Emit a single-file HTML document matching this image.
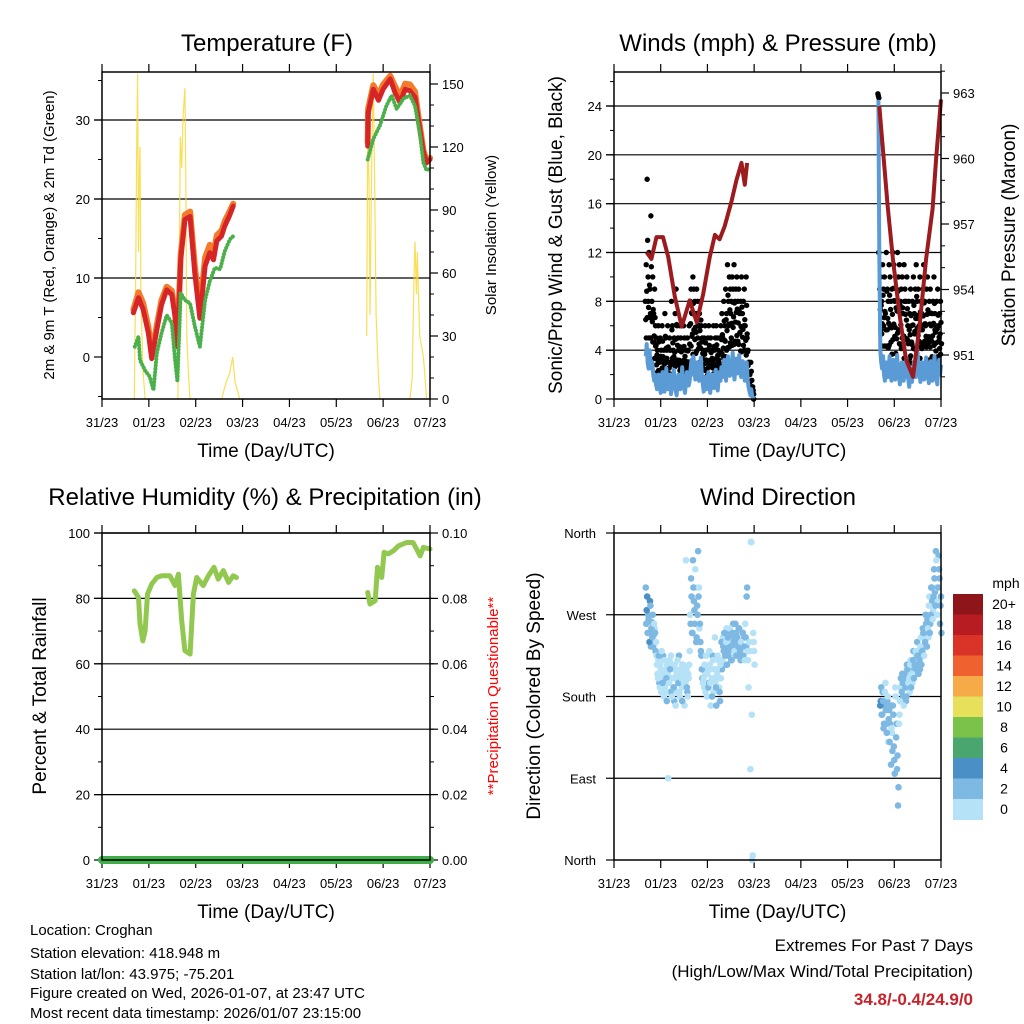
<!DOCTYPE html>
<html><head><meta charset="utf-8"><style>
html,body{margin:0;padding:0;background:#fff;}
svg{display:block;font-family:"Liberation Sans",Arial,sans-serif;}
</style></head><body>
<svg id="chart" width="1024" height="1024" viewBox="0 0 1024 1024" xmlns="http://www.w3.org/2000/svg">
<rect width="1024" height="1024" fill="#fff"/>
<text x="267" y="51" font-size="24" text-anchor="middle">Temperature (F)</text>
<text x="778" y="51" font-size="24" text-anchor="middle">Winds (mph) &amp; Pressure (mb)</text>
<text x="265" y="505" font-size="24" text-anchor="middle">Relative Humidity (%) &amp; Precipitation (in)</text>
<text x="778" y="505" font-size="24" text-anchor="middle">Wind Direction</text>
<text transform="translate(54,235) rotate(-90)" font-size="15" text-anchor="middle">2m &amp; 9m T (Red, Orange) &amp; 2m Td (Green)</text>
<text transform="translate(496,235) rotate(-90)" font-size="15" text-anchor="middle">Solar Insolation (Yellow)</text>
<text transform="translate(562,235) rotate(-90)" font-size="19" text-anchor="middle">Sonic/Prop Wind &amp; Gust (Blue, Black)</text>
<text transform="translate(1015,235) rotate(-90)" font-size="19" text-anchor="middle">Station Pressure (Maroon)</text>
<text transform="translate(46,696) rotate(-90)" font-size="19" text-anchor="middle">Percent &amp; Total Rainfall</text>
<text transform="translate(498,696) rotate(-90)" font-size="15" fill="#f00" text-anchor="middle">**Precipitation Questionable**</text>
<text transform="translate(540,696) rotate(-90)" font-size="19" text-anchor="middle">Direction (Colored By Speed)</text>
<g font-size="15">
<text x="30" y="935">Location: Croghan</text>
<text x="30" y="958">Station elevation: 418.948 m</text>
<text x="30" y="979">Station lat/lon: 43.975; -75.201</text>
<text x="30" y="998">Figure created on Wed, 2026-01-07, at 23:47 UTC</text>
<text x="30" y="1018">Most recent data timestamp: 2026/01/07 23:15:00</text>
</g>
<g text-anchor="end">
<text x="973" y="951" font-size="17">Extremes For Past 7 Days</text>
<text x="973" y="977" font-size="17">(High/Low/Max Wind/Total Precipitation)</text>
<text x="973" y="1005" font-size="17" font-weight="bold" fill="#c8222a">34.8/-0.4/24.9/0</text>
</g>
</svg>
<script>
// ---- data ----
const dayLabels=['31/23','01/23','02/23','03/23','04/23','05/23','06/23','07/23'];
const temp2m=[[0.67,5.6],[0.78,7.5],[0.88,6],[0.99,3],[1.06,-0.2],[1.17,3.4],[1.27,6.6],[1.38,8.5],[1.49,7.9],[1.56,5.1],[1.61,1.3],[1.68,12.3],[1.77,17.4],[1.88,17.8],[1.98,10.6],[2.09,4.9],[2.2,11.5],[2.3,13.2],[2.38,12.3],[2.45,14.7],[2.55,15.3],[2.62,16.6],[2.73,18],[2.8,19.1],null,[5.67,26.7],[5.68,30.8],[5.79,33.9],[5.9,32.5],[6.0,33.9],[6.15,35.2],[6.25,33.5],[6.36,32.2],[6.47,33.9],[6.57,33.7],[6.68,32.9],[6.75,30.1],[6.86,25.9],[6.93,24.6],[7.0,25.0]];
const temp9m=[[0.67,6],[0.78,8.2],[0.88,6.8],[0.99,3.8],[1.06,0.4],[1.17,4],[1.27,7.2],[1.38,8.9],[1.49,8.4],[1.56,5.6],[1.61,1.8],[1.68,13],[1.77,18],[1.88,18.4],[1.98,11.6],[2.09,5.8],[2.2,12.6],[2.3,14.2],[2.38,13],[2.45,15.4],[2.55,16],[2.62,17.2],[2.73,18.5],[2.8,19.4],null,[5.67,27.2],[5.68,31.4],[5.79,34.4],[5.9,33.2],[6.0,34.5],[6.15,35.6],[6.25,34.3],[6.36,33],[6.47,34.6],[6.57,34.5],[6.68,33.6],[6.75,30.6],[6.86,26.2],[6.93,24.8],[7.0,25.2]];
const dewpoint=[[0.7,1.3],[0.78,2.6],[0.81,-0.4],[0.92,-1.7],[1.02,-2.5],[1.1,-4.2],[1.17,0.5],[1.27,3],[1.38,5.3],[1.49,4.3],[1.56,-0.4],[1.61,-3.1],[1.68,8.1],[1.77,7.2],[1.88,6.8],[1.98,3.9],[2.09,1.3],[2.2,7.2],[2.3,9.6],[2.41,11.3],[2.52,11.1],[2.62,13.4],[2.73,14.9],[2.84,15.5],null,[5.67,25],[5.79,27.6],[5.93,29.3],[6.07,31.8],[6.18,33.1],[6.29,31.4],[6.43,32.7],[6.57,33.1],[6.68,31.8],[6.79,28],[6.86,24.6],[6.93,23.6],[7.0,24]];
const insolation=[[0.69,0],[0.72,60],[0.74,120],[0.76,155],[0.78,70],[0.79,95],[0.81,120],[0.83,50],[0.87,15],[0.92,0],null,[1.62,0],[1.65,60],[1.67,125],[1.7,110],[1.73,135],[1.77,148],[1.79,100],[1.81,30],[1.85,10],[1.88,0],null,[2.55,0],[2.65,8],[2.72,12],[2.79,20],[2.84,8],[2.94,0],null,[5.65,30],[5.67,130],[5.7,100],[5.72,40],[5.76,120],[5.79,155],[5.82,100],[5.85,40],[5.9,10],[5.93,0],null,[6.57,0],[6.62,10],[6.66,60],[6.68,75],[6.71,50],[6.73,70],[6.78,30],[6.86,20],[6.93,0]];
const pressure=[[0.7,955.7],[0.8,955.4],[0.91,956.4],[1.05,956.4],[1.16,955.5],[1.3,953.7],[1.45,952.3],[1.62,953.5],[1.77,952.5],[1.91,953.8],[2.05,955.5],[2.16,956.5],[2.26,956.3],[2.37,956.9],[2.51,958],[2.62,959],[2.73,959.8],[2.8,958.8],[2.85,959.8],null,[5.68,962.4],[5.75,960.6],[5.86,957.8],[5.97,955.4],[6.11,952.9],[6.25,950.8],[6.4,950],[6.54,952.3],[6.68,955.4],[6.82,957.7],[6.9,960.1],[7.0,962.7]];
const seg1Start=0.68, seg2Start=5.66, sampleStep=0.02;
const sonic1=[3.5,4.5,3,2.5,4,3,2.5,3,2,1.5,2,1.2,0.8,1.5,2,1,0.5,1.8,2.2,1,0.6,1.4,2.5,1.2,0.8,1.6,2,0.4,1,1.8,2.4,1.5,0.7,0.3,1.2,2,1.5,0.8,1.6,2.6,1.4,0.9,0.5,1.3,2.2,1.8,1.1,1.5,2.5,3.2,2,3.5,2.8,1.6,2.4,3,2.2,1.5,2.8,3.4,2,1.2,0.6,1,1.8,0.8,1.5,2.2,1.2,0.5,1.4,2,1.6,0.9,1.8,2.4,1.3,0.7,1.6,2.2,1.5,2.6,1.8,2.5,3.2,2.2,1.5,2.8,3.5,2.4,1.9,3,2.6,3.8,2.2,1.6,2.9,3.3,2.1,2.7,3.6,2.4,1.8,2.6,3.1,2,1.5,2.4,3,1.6,1,0.6,0.3,0.8,0.2,0.1,0];
const sonic2=[24.5,12,4,3,2.5,3.5,2,1.5,3,2.5,1.8,2.6,3.5,2,1.5,2.8,3.2,2.2,1.6,2.4,3.6,2.5,1.8,1.2,2.2,3,2.4,1.5,2,2.8,3.4,2.2,1.6,1,1.8,2.5,1.4,2.2,3,2.6,1.8,3.2,3.8,2.6,2,1.4,2.2,3,2.4,1.6,2.5,3.4,2.8,1.9,1.3,2.4,3.1,2.2,1.5,2.6,3.5,2.4,1.8,1.2,2.6,3.2,2,2.8];
const gust1=[8,11,18,10,12,9,15,8,10,7,9,6,5,4,6,3,5,4,6,3,4,7,5,4,6,3,5,4,8,6,4,5,7,9,6,5,4,6,5,3,4,6,5,4,3,5,4,6,8,9,7,10,9,8,7,9,8,6,7,8,6,5,4,5,6,4,3,5,6,4,5,4,3,6,4,5,6,5,4,3,5,6,7,5,8,6,9,7,11,8,10,9,8,10,9,11,8,9,10,8,9,7,8,10,7,8,9,6,10,5,4,3,2,3,1,1,0];
const gust2=[25,12,9,10,8,11,9,10,7,12,9,8,11,10,8,9,12,11,8,10,9,12,10,11,8,9,10,7,11,9,8,10,6,8,7,9,6,8,10,7,9,11,8,9,6,10,8,7,9,11,8,6,9,10,7,8,9,6,7,8,10,7,6,8,9,6,7,8];
const dir1=[300,275,250,265,240,280,255,245,235,260,250,240,215,200,225,190,210,230,195,205,220,185,200,215,90,195,210,225,180,200,190,215,170,205,220,195,185,210,200,175,215,195,205,330,190,180,200,230,260,290,250,300,275,320,240,280,340,300,260,230,210,195,200,215,185,225,205,190,230,195,210,180,220,200,245,190,210,225,200,185,215,240,220,235,250,225,240,215,245,230,255,235,220,250,240,230,260,225,245,235,255,230,240,225,250,235,220,245,290,230,190,240,100,350,0,250,230];
const dir1b=[260,290,270,250,285,235,262,270,248,255,230,225,205,220,195,215,185,200,225,180,190,210,175,205,195,220,185,200,215,190,175,210,200,185,195,225,180,205,190,215,200,170,195,210,185,205,215,270,310,250,330,285,260,300,245,270,290,255,240,225,200,210,190,205,225,180,210,195,215,170,200,225,185,210,195,170,205,220,190,175,200,210,245,230,215,240,255,235,225,250,240,220,235,260,245,225,250,240,230,255,240,220,235,250,225,245,260,235,300,220,240,230,350,160,5,240,215];
const dir2=[200,180,170,190,160,175,150,185,165,140,180,155,130,170,145,120,160,110,190,135,100,60,150,175,200,185,195,170,205,190,180,210,195,200,215,190,205,220,200,215,230,210,225,205,220,235,215,230,250,225,240,260,235,255,280,250,270,300,265,290,310,280,330,270,300,320,260,290];
const dir2b=[210,190,175,160,185,145,170,195,150,175,130,165,150,105,140,170,125,95,180,150,115,80,160,190,175,205,180,190,200,175,215,195,210,185,220,205,195,230,210,205,225,240,215,230,210,245,225,255,235,245,270,250,265,245,290,260,300,285,275,320,295,340,300,285,335,310,280,250];
const rh=[[0.69,82.3],[0.78,80.3],[0.81,72.2],[0.87,67],[0.92,70],[0.97,81.3],[1.06,84.4],[1.17,86.4],[1.27,86.9],[1.45,86.9],[1.56,83.9],[1.63,87.4],[1.7,73.2],[1.77,64],[1.88,63],[1.95,81.3],[2.02,86.4],[2.16,83.9],[2.27,86.9],[2.39,89.5],[2.48,85.9],[2.59,88.5],[2.7,84.9],[2.8,86.9],[2.87,86.4],null,[5.67,81.8],[5.72,78.3],[5.83,79.3],[5.88,89.5],[5.97,86.4],[6.02,94.1],[6.11,93.6],[6.22,94.6],[6.33,96.1],[6.5,97.1],[6.64,97.1],[6.79,93],[6.86,95.6],[7.0,95.1]];
const precip=[[0,0],[7,0]];
const speedLabels=['20+','18','16','14','12','10','8','6','4','2','0'];
const speedColors=['#8e1519','#b81c23','#da3328','#ef6230','#f6aa48','#e6e05a','#7bc24b','#4aa66f','#4a8fc6','#7db9e3','#b5e2f7'];

// ---- helpers ----
const NS='http://www.w3.org/2000/svg';
const svg=document.getElementById('chart');
function el(tag,attrs,parent){const e=document.createElementNS(NS,tag);for(const k in attrs)e.setAttribute(k,attrs[k]);(parent||svg).appendChild(e);return e;}
function group(name){const g=el('g',{});return g;}
function mkPanel(x0,x1,y0,y1){return {x0,x1,y0,y1,tx:d=>x0+d/7*(x1-x0)};}
function lin(v0,v1,p0,p1){return v=>p0+(v-v0)/(v1-v0)*(p1-p0);}
function pathOf(pts,fx,fy){let d='',pen=false;for(const p of pts){if(!p){pen=false;continue;}d+=(pen?'L':'M')+fx(p[0]).toFixed(1)+' '+fy(p[1]).toFixed(1);pen=true;}return d;}
function frame(P,name){
  const g=group(name+'-axes');
  for(let i=0;i<8;i++){const x=P.tx(i);
    el('line',{x1:x,x2:x,y1:P.y0-8,y2:P.y0,stroke:'#000','stroke-width':1.2},g);
    el('line',{x1:x,x2:x,y1:P.y1,y2:P.y1+8,stroke:'#000','stroke-width':1.2},g);
    const t=el('text',{x:x,y:P.y1+28,'font-size':13,'text-anchor':'middle'},g);t.textContent=dayLabels[i];
    
    
  }
  const tt=el('text',{x:(P.x0+P.x1)/2,y:P.y1+58,'font-size':19,'text-anchor':'middle'},g);tt.textContent='Time (Day/UTC)';
  
  
  return g;
}
function border(P){const r=el('rect',{x:P.x0,y:P.y0,width:P.x1-P.x0,height:P.y1-P.y0,fill:'none',stroke:'#000','stroke-width':1.5});
  
  }
function yAxis(P,side,sc,majors,minors,fmt,grid,name){
  const g=group(name);
  const x=side==='l'?P.x0:P.x1,dir=side==='l'?-1:1;
  for(const v of minors){const y=sc(v);el('line',{x1:x,x2:x+dir*4,y1:y,y2:y,stroke:'#000','stroke-width':1},g);}
  for(const v of majors){const y=sc(v);
    el('line',{x1:x,x2:x+dir*8,y1:y,y2:y,stroke:'#000','stroke-width':1.2},g);
    if(grid&&v!==majors[0]||grid==='all'){el('line',{x1:P.x0-8,x2:P.x1,y1:y,y2:y,stroke:'#000','stroke-width':1.2},g);}
    const t=el('text',{x:x+dir*12,y:y+5,'font-size':13,'text-anchor':side==='l'?'end':'start'},g);t.textContent=fmt(v);
  }
}
function range(a,b,s){const r=[];for(let v=a;v<=b+1e-9;v+=s)r.push(+v.toFixed(4));return r;}

// ---- Temperature panel ----
const PT=mkPanel(102,430,72,399);
const tY=lin(0,30,357,120), iY=lin(0,150,399,84);
frame(PT,'temp');
yAxis(PT,'l',tY,[0,10,20,30],[-5,5,15,25,35],v=>v,true,'temp-left-axis');
yAxis(PT,'r',iY,range(0,150,30),range(0,150,10),v=>v,false,'insolation-right-axis');
const gTemp=group('temperature-series');
const insPath=el('path',{d:pathOf(insolation,PT.tx,iY),fill:'none',stroke:'#f8d83a','stroke-width':1.2,opacity:0.85},gTemp);


const t9=el('path',{d:pathOf(temp9m,PT.tx,tY),fill:'none',stroke:'#f47b2b','stroke-width':6,'stroke-linejoin':'round','stroke-linecap':'round'},gTemp);


const t2=el('path',{d:pathOf(temp2m,PT.tx,tY),fill:'none',stroke:'#d62527','stroke-width':5,'stroke-linejoin':'round','stroke-linecap':'round'},gTemp);


const td=el('path',{d:pathOf(dewpoint,PT.tx,tY),fill:'none',stroke:'#4bb04a','stroke-width':4,'stroke-dasharray':'0.1 3.2','stroke-linecap':'round'},gTemp);


border(PT);

// ---- Winds panel ----
const PW=mkPanel(614,941,72,399);
const wY=lin(0,24,399,106), pY=lin(951,963,355,93);
frame(PW,'wind');
yAxis(PW,'l',wY,range(0,24,4),range(0,26,2),v=>v,true,'wind-left-axis');
yAxis(PW,'r',pY,range(951,963,3),range(950,964,1),v=>v,false,'pressure-right-axis');
const gWind=group('wind-series');
function drawWind(sonic,gust,start){
  const pts=sonic.map((v,i)=>[start+i*sampleStep,v]);
  for(let i=0;i<gust.length;i++){const x=PW.tx(start+i*sampleStep);
    const lvls=[gust[i],(gust[i]*2+sonic[i])/3,(gust[i]+sonic[i]*2)/3];
    for(const v of lvls){
      const c=el('circle',{cx:x+(lvls.indexOf(v)-1)*0.5,cy:wY(v),r:2.7,fill:'#000'},gWind);
      
      
    }
  }
  const p=el('path',{d:pathOf(pts,PW.tx,wY),fill:'none',stroke:'#5a9bd5','stroke-width':4,'stroke-linejoin':'round'},gWind);
  
  
}
drawWind(sonic1,gust1,seg1Start);
drawWind(sonic2,gust2,seg2Start);
const pr=el('path',{d:pathOf(pressure,PW.tx,pY),fill:'none',stroke:'#9b1b1f','stroke-width':4,'stroke-linejoin':'round'},gWind);


border(PW);

// ---- RH panel ----
const PR=mkPanel(102,430,533,860);
const rY=lin(0,100,860,533), qY=lin(0,0.1,860,533);
frame(PR,'rh');
yAxis(PR,'l',rY,range(0,100,20),range(0,100,10),v=>v,true,'rh-left-axis');
yAxis(PR,'r',qY,range(0,0.1,0.02),range(0,0.1,0.01),v=>v.toFixed(2),false,'precip-right-axis');
const gRh=group('rh-series');
const rp=el('path',{d:pathOf(rh,PR.tx,rY),fill:'none',stroke:'#92c84f','stroke-width':5,'stroke-linejoin':'round','stroke-linecap':'round'},gRh);


const pp=el('path',{d:pathOf(precip,PR.tx,qY),fill:'none',stroke:'#3fae49','stroke-width':8,'stroke-linecap':'round'},gRh);


border(PR);

// ---- Direction panel ----
const PD=mkPanel(614,941,533,860);
const dY=lin(0,360,860,533);
frame(PD,'dir');
(function(){const g=group('dir-left-axis');const names=['North','East','South','West','North'];
  [0,90,180,270,360].forEach((v,i)=>{const y=dY(v);
    el('line',{x1:PD.x0-8,x2:PD.x0,y1:y,y2:y,stroke:'#000','stroke-width':1.2},g);
    if(v>0&&v<360)el('line',{x1:PD.x0,x2:PD.x1,y1:y,y2:y,stroke:'#000','stroke-width':1.2},g);
    const t=el('text',{x:PD.x0-18,y:y+5,'font-size':13,'text-anchor':'end'},g);t.textContent=names[i];});
})();
const gDir=group('direction-series');
function colorFor(s){let k=Math.floor(s/2);if(k>10)k=10;return speedColors[10-k];}
function drawDir(dirs,sonic,start,from,off){
  for(let i=from;i<dirs.length;i++){
    const c=el('circle',{cx:PD.tx(start+i*sampleStep+off),cy:dY(dirs[i]),r:3.3,fill:colorFor(sonic[i])},gDir);
    
    
  }
}
drawDir(dir1b,sonic1,seg1Start,0,0.01);
drawDir(dir1,sonic1,seg1Start,0,0);
drawDir(dir2b,sonic2,seg2Start,2,0.01);
drawDir(dir2,sonic2,seg2Start,2,0);
border(PD);

// ---- colorbar ----
const gCb=group('speed-colorbar');
const cbTop=594,cbH=20.5;
speedColors.forEach((c,i)=>{
  const r=el('rect',{x:953,y:cbTop+i*cbH,width:30,height:cbH+0.5,fill:c},gCb);
  
  
  const t=el('text',{x:1004,y:cbTop+i*cbH+15,'font-size':14,'text-anchor':'middle'},gCb);t.textContent=speedLabels[i];
});
const mph=el('text',{x:1006,y:588,'font-size':14,'text-anchor':'middle'},gCb);mph.textContent='mph';


</script>
</body></html>
